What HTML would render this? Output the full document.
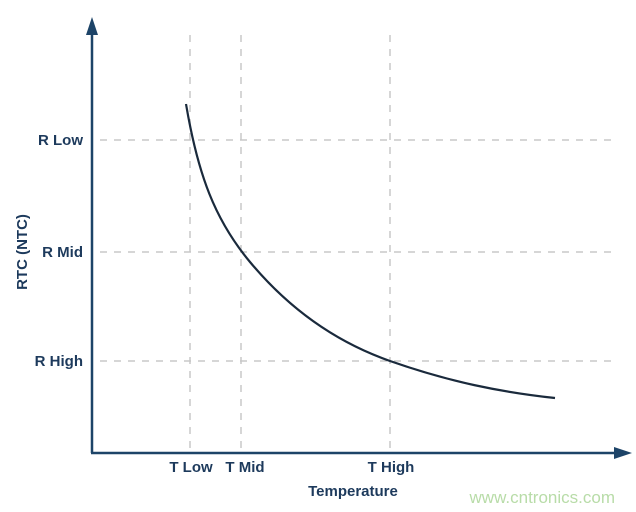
<!DOCTYPE html>
<html><head><style>body{margin:0;background:#fff}svg{display:block}</style></head><body>
<svg width="636" height="512" xmlns="http://www.w3.org/2000/svg" font-family="Liberation Sans, sans-serif">
<g stroke="#c8c8c8" stroke-width="1.5" stroke-dasharray="7,7" fill="none">
<line x1="100" y1="140" x2="612" y2="140"/>
<line x1="100" y1="252" x2="612" y2="252"/>
<line x1="100" y1="361" x2="612" y2="361"/>
<line x1="190" y1="35" x2="190" y2="452"/>
<line x1="241" y1="35" x2="241" y2="452"/>
<line x1="390" y1="35" x2="390" y2="452"/>
</g>
<g stroke="#1d4468" stroke-width="2.5" fill="none">
<line x1="92" y1="30" x2="92" y2="453"/>
<line x1="91" y1="453" x2="620" y2="453"/>
</g>
<polygon points="92,17 86,35 98,35" fill="#1d4468"/>
<polygon points="632,453 614,447 614,459" fill="#1d4468"/>
<path d="M186,104 C198,175 215,220 250,262 S330,340 390,361 S500,392 555,398" stroke="#1a2a3c" stroke-width="2.2" fill="none"/>
<g fill="#1d3a5c" font-weight="bold" font-size="15">
<text x="83" y="145" text-anchor="end">R Low</text>
<text x="83" y="257" text-anchor="end">R Mid</text>
<text x="83" y="366" text-anchor="end">R High</text>
<text x="191" y="472" text-anchor="middle">T Low</text>
<text x="245" y="472" text-anchor="middle">T Mid</text>
<text x="391" y="472" text-anchor="middle">T High</text>
<text x="353" y="496" text-anchor="middle">Temperature</text>
<text transform="translate(27,252) rotate(-90)" text-anchor="middle">RTC (NTC)</text>
</g>
<text x="615" y="503" text-anchor="end" font-size="17" fill="#b8dca8">www.cntronics.com</text>
</svg>
</body></html>
